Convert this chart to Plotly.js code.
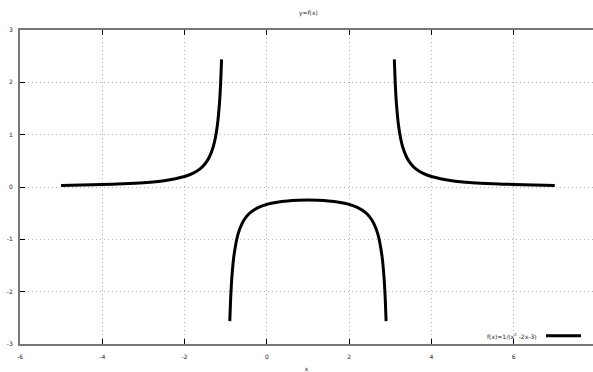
<!DOCTYPE html>
<html>
<head>
<meta charset="utf-8">
<script src="https://cdn.plot.ly/plotly-3.0.1.min.js"></script>
<style>html,body{margin:0;padding:0;background:#fff;}#chart{width:593px;height:372px;}</style>
</head>
<body>
<div id="chart"></div>
<script>
// Values: curve f(x)=1/(x^2-2x-3), three branches
var leftX  = [-5, -4.5, -4, -3.5, -3, -2.5, -2, -1.8, -1.6, -1.5, -1.4, -1.3, -1.25, -1.2, -1.15, -1.12, -1.1];
var leftY  = [0.031, 0.038, 0.048, 0.062, 0.083, 0.121, 0.2, 0.26, 0.362, 0.444, 0.568, 0.775, 0.941, 1.19, 1.606, 2.023, 2.439];
var midX   = [-0.9, -0.88, -0.85, -0.8, -0.7, -0.6, -0.5, -0.4, -0.2, 0, 0.25, 0.5, 0.75, 1, 1.25, 1.5, 1.75, 2, 2.2, 2.4, 2.5, 2.6, 2.7, 2.8, 2.85, 2.88, 2.9];
var midY   = [-2.564, -2.148, -1.732, -1.316, -0.901, -0.694, -0.571, -0.49, -0.391, -0.333, -0.291, -0.267, -0.254, -0.25, -0.254, -0.267, -0.291, -0.333, -0.391, -0.49, -0.571, -0.694, -0.901, -1.316, -1.732, -2.148, -2.564];
var rightX = [3.1, 3.12, 3.15, 3.2, 3.25, 3.3, 3.4, 3.5, 3.6, 3.8, 4, 4.5, 5, 5.5, 6, 6.5, 7];
var rightY = [2.439, 2.023, 1.606, 1.19, 0.941, 0.775, 0.568, 0.444, 0.362, 0.26, 0.2, 0.121, 0.083, 0.062, 0.048, 0.038, 0.031];
var seriesName = 'f(x)=1/(x<sup>2</sup> -2x-3)';
var xTicks = [-6, -4, -2, 0, 2, 4, 6];
var yTicks = [-3, -2, -1, 0, 1, 2, 3];

var xs = leftX.concat([null], midX, [null], rightX);
var ys = leftY.concat([null], midY, [null], rightY);

var font = {family: 'DejaVu Sans, sans-serif', size: 6, color: '#222'};

var data = [{
  x: xs, y: ys, type: 'scatter', mode: 'lines', name: seriesName,
  connectgaps: false, showlegend: false,
  line: {color: '#000', width: 3, shape: 'spline', smoothing: 0.6}
}];

var layout = {
  width: 593, height: 372,
  margin: {l: 20, r: 0, t: 30, b: 28},
  paper_bgcolor: '#fff', plot_bgcolor: '#fff',
  font: font,
  title: {text: 'y=f(x)', font: font, x: 0.52, xanchor: 'center', y: 0.965, yanchor: 'middle'},
  xaxis: {
    range: [-6, 7.93], tickvals: xTicks, ticktext: xTicks.map(String),
    showgrid: true, gridcolor: '#b4b4b4', griddash: '1px,3px', gridwidth: 1,
    zeroline: false, showline: true, linecolor: '#777', linewidth: 2, mirror: 'ticks',
    ticks: 'inside', ticklen: 5, tickcolor: '#000', tickwidth: 1,
    tickfont: font, ticklabelstandoff: 6,
    title: {text: 'x', font: font, standoff: 10}
  },
  yaxis: {
    range: [-3, 3], tickvals: yTicks, ticktext: yTicks.map(String),
    showgrid: true, gridcolor: '#b4b4b4', griddash: '1px,3px', gridwidth: 1,
    zeroline: false, showline: true, linecolor: '#777', linewidth: 2,
    ticks: 'inside', ticklen: 5, tickcolor: '#000', tickwidth: 1,
    tickfont: font, ticklabelstandoff: 4
  },
  annotations: [{
    text: seriesName, xref: 'paper', yref: 'paper', x: 0.905, y: 0.026,
    xanchor: 'right', yanchor: 'middle', showarrow: false, font: font
  }],
  shapes: [{
    type: 'line', xref: 'paper', yref: 'paper', x0: 0.918, x1: 0.979, y0: 0.026, y1: 0.026,
    line: {color: '#000', width: 3}
  }]
};

Plotly.newPlot('chart', data, layout, {displayModeBar: false, staticPlot: true});
</script>
</body>
</html>
